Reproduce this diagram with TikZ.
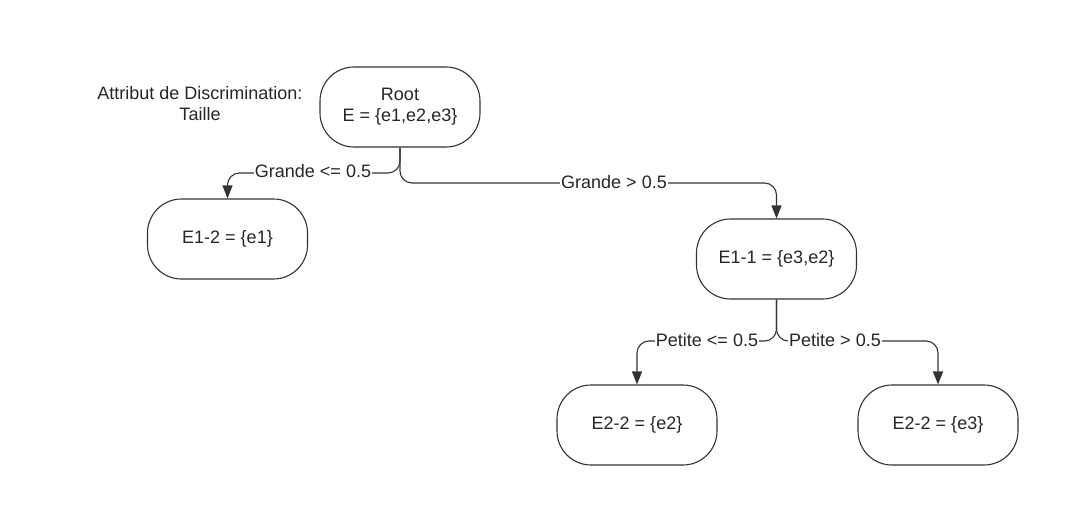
\documentclass[tikz,border=0pt]{standalone}
\usepackage{fontspec}
\setmainfont{Liberation Sans}
\usetikzlibrary{arrows.meta}
\begin{document}
\begin{tikzpicture}[x=1pt,y=-1pt,
  box/.style={draw=black!80,line width=1.1pt,rounded corners=34pt,minimum width=160pt,minimum height=80pt,align=center,font=\fontsize{18}{21}\selectfont,text=black!85,inner sep=0pt},
  conn/.style={draw=black!80,line width=1.1pt,rounded corners=12pt,-{Triangle[length=13pt,width=10pt]}},
  lab/.style={fill=white,inner sep=1pt,font=\fontsize{18}{21}\selectfont,text=black!85}]
\useasboundingbox (0,0) rectangle (1091,532);
\fill[white] (0,0) rectangle (1091,532);
\node[box] (root) at (400,107) {Root\\E = \{e1,e2,e3\}};
\node[box] (e12) at (227.5,239) {E1-2 = \{e1\}};
\node[box] (e11) at (776.5,259) {E1-1 = \{e3,e2\}};
\node[box] (e22a) at (637,425) {E2-2 = \{e2\}};
\node[box] (e22b) at (938,425) {E2-2 = \{e3\}};
\node[align=center,font=\fontsize{18}{21}\selectfont,text=black!85] (attr) at (200,104) {Attribut de Discrimination:\\Taille};
\draw[conn] (root.south) -- (400,173) -- (227.5,173) -- (e12.north);
\node[lab] (gl) at (313,171) {Grande <= 0.5};
\draw[conn] (root.south) -- (400,183) -- (776.5,183) -- (e11.north);
\node[lab] (gr) at (614,182) {Grande > 0.5};
\draw[conn] (e11.south) -- (776.5,341) -- (637,341) -- (e22a.north);
\node[lab] (pl) at (707,340) {Petite <= 0.5};
\draw[conn] (e11.south) -- (776.5,341) -- (938,341) -- (e22b.north);
\node[lab] (pr) at (835,340) {Petite > 0.5};
\end{tikzpicture}
\end{document}
